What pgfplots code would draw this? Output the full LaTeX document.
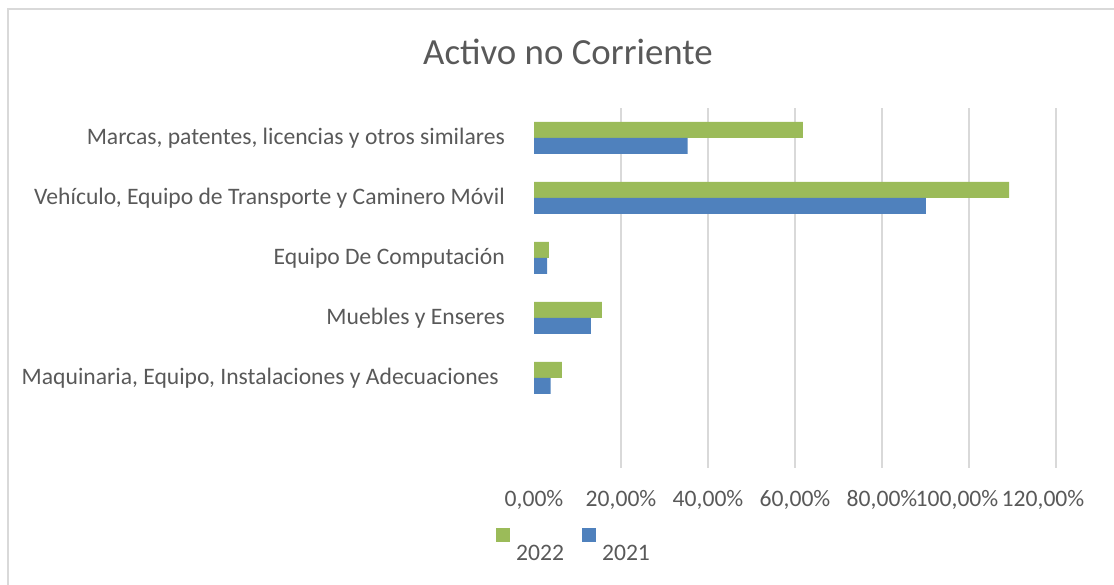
\documentclass[border=0pt]{standalone}
\usepackage{fontspec}
\setmainfont{Carlito}
\usepackage{pgfplots}
\pgfplotsset{compat=1.18}
\definecolor{g22}{HTML}{9BBB59}
\definecolor{b21}{HTML}{4F81BD}
\definecolor{txt}{HTML}{595959}
\definecolor{grd}{HTML}{D9D9D9}
\begin{document}
\begin{tikzpicture}[x=1bp,y=1bp]
\useasboundingbox (0,0) rectangle (1114,585);
\draw[grd, line width=1.5bp] (8,-10) rectangle (1130,576);
\begin{axis}[
 at={(534bp,117bp)}, anchor=south west,
 scale only axis, width=522bp, height=360bp,
 xbar, bar width=16bp,
 xmin=0, xmax=120, ymin=-1.5, ymax=4.5,
 xtick={0,20,...,120},
 xticklabels={{0,00\%},{20,00\%},{40,00\%},{60,00\%},{80,00\%},{\hspace*{-24bp}100,00\%},{\hspace*{-26bp}120,00\%}},
 extra x ticks={20,40,...,120}, extra x tick labels={},
 extra x tick style={grid=major, major grid style={grd, line width=1.5bp}},
 ytick={0,1,2,3,4},
 yticklabels={{Maquinaria, Equipo, Instalaciones y Adecuaciones\hspace*{6bp}},{Muebles y Enseres},{Equipo De Computación},{Vehículo, Equipo de Transporte y Caminero Móvil},{Marcas, patentes, licencias y otros similares}},
 axis line style={draw=none}, major tick length=0pt,
 ticklabel style={font=\fontsize{23.7}{28}\selectfont, text=txt},
 xticklabel style={anchor=base, yshift=-39bp, inner sep=0pt},
 yticklabel style={anchor=east, inner sep=0pt, xshift=-29bp},
 title={Activo no Corriente},
 title style={at={(axis description cs:0.0651,1.1042)}, anchor=base, inner sep=0pt, font=\fontsize{37}{44}\selectfont, text=txt},
 legend columns=2,
 legend image code/.code={\fill[#1] (0bp,11bp) rectangle (14bp,25bp);},
 legend style={draw=none, fill=none, inner sep=0pt, nodes={inner sep=0pt},
   at={(axis description cs:-0.0728,-0.1667)}, anchor=north west,
   font=\fontsize{23.7}{28}\selectfont, text=txt,
   /tikz/every odd column/.append style={column sep=6bp},
   /tikz/every even column/.append style={column sep=18bp}},
]
\addplot[fill=g22, draw=none, bar shift=8bp] coordinates {(6.4,0) (15.6,1) (3.4,2) (109.2,3) (61.8,4)};
\addplot[fill=b21, draw=none, bar shift=-8bp] coordinates {(3.8,0) (13.1,1) (3.0,2) (90.1,3) (35.3,4)};
\legend{2022,2021}
\end{axis}
\end{tikzpicture}
\end{document}
